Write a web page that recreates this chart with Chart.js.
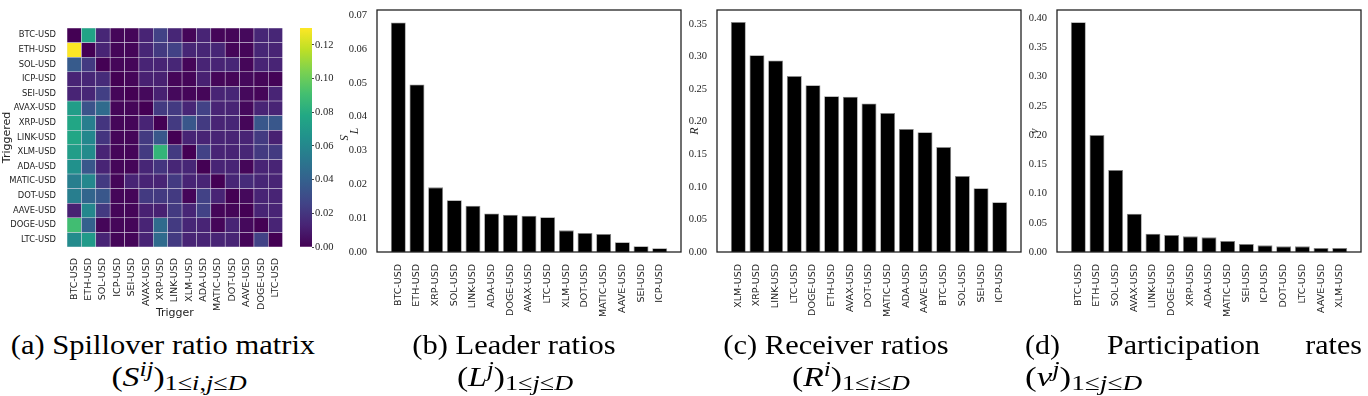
<!DOCTYPE html>
<html><head><meta charset="utf-8">
<script src="https://cdn.jsdelivr.net/npm/chart.js@4.4.1/dist/chart.umd.min.js"></script>
<style>
html,body{margin:0;padding:0;background:#fff;width:1368px;height:396px;overflow:hidden;}
.box{position:absolute;}
.cap{position:absolute;font-family:"Liberation Serif","DejaVu Serif",serif;font-size:28px;line-height:30px;color:#000;white-space:nowrap;}
.cap sub{font-size:0.78em;vertical-align:-0.2em;line-height:0;}
.cap sup{font-size:0.75em;vertical-align:0.5em;line-height:0;}
.c{text-align:center;}
.l1{transform:scaleX(1.09);transform-origin:center;}
.l2{transform:scaleX(1.2);transform-origin:center;}
.l2l{transform:scaleX(1.25);transform-origin:left;}
.sp{display:inline-block;transform:scaleX(1.07);}
</style></head><body>
<div class="box" style="left:0;top:0;width:290px;height:320px"><canvas id="cHm"></canvas></div>
<div class="box" style="left:295px;top:0;width:55px;height:320px"><canvas id="cCb"></canvas></div>
<div class="box" style="left:340px;top:0;width:345px;height:320px"><canvas id="cL"></canvas></div>
<div class="box" style="left:680px;top:0;width:345px;height:320px"><canvas id="cR"></canvas></div>
<div class="box" style="left:1020px;top:0;width:345px;height:320px"><canvas id="cN"></canvas></div>

<div class="cap c l1" style="left:0;top:330px;width:326px">(a) Spillover ratio matrix</div>
<div class="cap c l2" style="left:0;top:362px;width:358px">(<i>S</i><sup><i>ij</i></sup>)<sub>1≤<i>i</i>,<i>j</i>≤<i>D</i></sub></div>
<div class="cap c l1" style="left:364px;top:330px;width:300px">(b) Leader ratios</div>
<div class="cap c l2" style="left:365px;top:362px;width:300px">(<i>L</i><sup><i>j</i></sup>)<sub>1≤<i>j</i>≤<i>D</i></sub></div>
<div class="cap c l1" style="left:686px;top:330px;width:300px">(c) Receiver ratios</div>
<div class="cap c l2" style="left:701px;top:362px;width:300px">(<i>R</i><sup><i>i</i></sup>)<sub>1≤<i>i</i>≤<i>D</i></sub></div>
<div class="cap" style="left:1025px;top:330px;width:337px;display:flex;justify-content:space-between"><span class="sp" style="transform-origin:left">(d)</span><span class="sp">Participation</span><span class="sp" style="transform-origin:right">rates</span></div>
<div class="cap l2l" style="left:1025px;top:362px">(<i>ν</i><sup><i>j</i></sup>)<sub>1≤<i>j</i>≤<i>D</i></sub></div>

<script>
// ---------- DATA ----------
const assets = ['BTC-USD','ETH-USD','SOL-USD','ICP-USD','SEI-USD','AVAX-USD','XRP-USD','LINK-USD','XLM-USD','ADA-USD','MATIC-USD','DOT-USD','AAVE-USD','DOGE-USD','LTC-USD'];
const triggeredLabels = assets;   // rows
const triggerLabels = assets;     // columns
// spillover ratio matrix S^{ij}: row = triggered, column = trigger
const spilloverMatrix = [
  [0,     0.075, 0.014, 0.002, 0.002, 0.013, 0.025, 0.014, 0.002, 0.013, 0.002, 0.002, 0.003, 0.014, 0.014],
  [0.13,  0,     0.013, 0.002, 0.002, 0.014, 0.022, 0.025, 0.014, 0.014, 0.014, 0.002, 0.002, 0.014, 0.013],
  [0.037, 0.022, 0,     0.002, 0.002, 0.013, 0.013, 0.014, 0.002, 0.013, 0.013, 0.014, 0.002, 0.013, 0.013],
  [0.013, 0.014, 0.016, 0,     0.002, 0.012, 0.012, 0.002, 0.002, 0.012, 0.002, 0.002, 0.003, 0.002, 0.001],
  [0.013, 0.014, 0.024, 0.002, 0,     0.003, 0.012, 0.003, 0.002, 0.002, 0.013, 0.014, 0.003, 0.002, 0.013],
  [0.072, 0.033, 0.045, 0.002, 0.002, 0,     0.022, 0.022, 0.014, 0.025, 0.013, 0.013, 0.003, 0.013, 0.013],
  [0.077, 0.055, 0.020, 0.002, 0.002, 0.013, 0,     0.022, 0.035, 0.022, 0.013, 0.014, 0.002, 0.035, 0.035],
  [0.077, 0.060, 0.020, 0.002, 0.002, 0.022, 0.035, 0,     0.013, 0.013, 0.013, 0.013, 0.013, 0.022, 0.012],
  [0.072, 0.062, 0.013, 0.002, 0.002, 0.022, 0.085, 0.022, 0,     0.025, 0.013, 0.013, 0.014, 0.022, 0.022],
  [0.065, 0.035, 0.013, 0.002, 0.002, 0.014, 0.020, 0.014, 0.014, 0,     0.013, 0.013, 0.002, 0.013, 0.013],
  [0.055, 0.060, 0.022, 0.002, 0.013, 0.013, 0.013, 0.022, 0.013, 0.013, 0,     0.014, 0.016, 0.014, 0.013],
  [0.055, 0.042, 0.035, 0.002, 0.002, 0.022, 0.022, 0.022, 0.002, 0.025, 0.013, 0,     0.003, 0.013, 0.013],
  [0.012, 0.060, 0.022, 0.002, 0.002, 0.012, 0.012, 0.022, 0.014, 0.025, 0.002, 0.002, 0,     0.013, 0.013],
  [0.090, 0.040, 0.002, 0.002, 0.002, 0.013, 0.045, 0.022, 0.014, 0.013, 0.002, 0.013, 0.003, 0,     0.013],
  [0.062, 0.070, 0.013, 0.002, 0.002, 0.013, 0.045, 0.022, 0.013, 0.013, 0.013, 0.013, 0.002, 0.025, 0]
];
const colorbarMax = 0.13;
const colorbarTicks = [0, 0.02, 0.04, 0.06, 0.08, 0.10, 0.12];

const leaderLabels = ['BTC-USD','ETH-USD','XRP-USD','SOL-USD','LINK-USD','ADA-USD','DOGE-USD','AVAX-USD','LTC-USD','XLM-USD','DOT-USD','MATIC-USD','AAVE-USD','SEI-USD','ICP-USD'];
const leaderValues = [0.0678,0.0495,0.0191,0.0153,0.0137,0.0114,0.0110,0.0107,0.0103,0.0064,0.0056,0.0053,0.0029,0.0017,0.0011];
const leaderTicks = [0,0.01,0.02,0.03,0.04,0.05,0.06,0.07];
const leaderMax = 0.0715;

const receiverLabels = ['XLM-USD','XRP-USD','LINK-USD','LTC-USD','DOGE-USD','ETH-USD','AVAX-USD','DOT-USD','MATIC-USD','ADA-USD','AAVE-USD','BTC-USD','SOL-USD','SEI-USD','ICP-USD'];
const receiverValues = [0.353,0.302,0.294,0.270,0.256,0.239,0.2385,0.228,0.2134,0.189,0.184,0.161,0.1167,0.0978,0.0763];
const receiverTicks = [0,0.05,0.10,0.15,0.20,0.25,0.30,0.35];
const receiverMax = 0.3715;

const participationLabels = ['BTC-USD','ETH-USD','SOL-USD','AVAX-USD','LINK-USD','DOGE-USD','XRP-USD','ADA-USD','MATIC-USD','SEI-USD','ICP-USD','DOT-USD','LTC-USD','AAVE-USD','XLM-USD'];
const participationValues = [0.393,0.200,0.1402,0.0655,0.0313,0.0290,0.0268,0.0251,0.0188,0.0137,0.0114,0.0097,0.0097,0.0068,0.0068];
const participationTicks = [0,0.05,0.10,0.15,0.20,0.25,0.30,0.35,0.40];
const participationMax = 0.414;

// ---------- HELPERS ----------
const viridisStops = ['#440154','#482475','#414487','#355f8d','#2a788e','#21918c','#22a884','#44bf70','#7ad151','#bddf26','#fde725'];
function hexToRgb(h){ return [parseInt(h.slice(1,3),16), parseInt(h.slice(3,5),16), parseInt(h.slice(5,7),16)]; }
function viridis(t){
  t = Math.max(0, Math.min(1, t));
  const n = viridisStops.length - 1;
  const p = t * n, i = Math.min(Math.floor(p), n - 1), f = p - i;
  const a = hexToRgb(viridisStops[i]), b = hexToRgb(viridisStops[i+1]);
  const c = a.map((v, k) => Math.round(v + (b[k] - v) * f));
  return 'rgb(' + c.join(',') + ')';
}
const SANS = '"DejaVu Sans", sans-serif';
const SERIF = '"Liberation Serif", "DejaVu Serif", serif';
const TXT = '#222';

const framePlugin = {
  id: 'frame',
  afterDraw(chart, args, opts) {
    const {ctx, chartArea: a} = chart;
    ctx.save();
    ctx.strokeStyle = opts.color || '#222';
    ctx.lineWidth = opts.width || 1.2;
    ctx.strokeRect(a.left, a.top, a.right - a.left, a.bottom - a.top);
    ctx.restore();
  }
};

Chart.defaults.animation = false;
Chart.defaults.plugins.legend.display = false;
Chart.defaults.plugins.tooltip.enabled = false;

// ---------- HEATMAP ----------
new Chart(document.getElementById('cHm'), {
  type: 'bar',
  data: {
    labels: triggerLabels,
    datasets: spilloverMatrix.map((row, r) => ({
      label: triggeredLabels[r],
      data: row.map(() => 1),
      backgroundColor: row.map(v => viridis(v / colorbarMax)),
      borderColor: 'rgba(205,200,220,0.5)',
      borderWidth: 0.6,
      borderSkipped: false,
      barPercentage: 1,
      categoryPercentage: 1
    }))
  },
  options: {
    responsive: true, maintainAspectRatio: false,
    layout: { padding: { top: 28, right: 3, left: 0, bottom: 0 } },
    scales: {
      x: {
        stacked: true,
        grid: { display: false }, border: { display: false },
        ticks: { autoSkip: false, maxRotation: 90, minRotation: 90, padding: 3, color: TXT, font: { family: SANS, size: 9.5 } },
        title: { display: true, text: 'Trigger', color: TXT, font: { family: SANS, size: 11 }, padding: { top: 0, bottom: 0 } },
        afterFit: s => { s.height = 73; }
      },
      y: {
        stacked: true, reverse: true, min: 0, max: triggeredLabels.length,
        grid: { display: false }, border: { display: false },
        afterBuildTicks: s => { s.ticks = triggeredLabels.map((_, i) => ({ value: i + 0.5 })); },
        ticks: { autoSkip: false, padding: 3, color: TXT, font: { family: SANS, size: 8.4 },
          callback: v => triggeredLabels[Math.floor(v)] },
        title: { display: true, text: 'Triggered', color: TXT, font: { family: SANS, size: 11 }, padding: { top: 1, bottom: 2 } },
        afterFit: s => { s.width = 67; }
      }
    }
  }
});

// ---------- COLORBAR ----------
new Chart(document.getElementById('cCb'), {
  type: 'bar',
  data: {
    labels: ['S'],
    datasets: [{
      data: [[0, colorbarMax]],
      barPercentage: 1, categoryPercentage: 1,
      backgroundColor: (ctx) => {
        const a = ctx.chart.chartArea;
        if (!a) return viridis(0);
        const g = ctx.chart.ctx.createLinearGradient(0, a.bottom, 0, a.top);
        viridisStops.forEach((c, i) => g.addColorStop(i / (viridisStops.length - 1), c));
        return g;
      }
    }]
  },
  options: {
    responsive: true, maintainAspectRatio: false,
    layout: { padding: { top: 28, bottom: 73, left: 5, right: 0 } },
    scales: {
      x: { display: false },
      y: {
        position: 'right', min: 0, max: colorbarMax,
        grid: { display: true, drawOnChartArea: false, drawTicks: true, tickLength: 2, color: '#444' },
        border: { display: false },
        afterBuildTicks: s => { s.ticks = colorbarTicks.map(v => ({ value: v })); },
        ticks: { padding: 1, color: TXT, font: { family: SERIF, size: 10.5 }, callback: v => v.toFixed(2) },
        title: { display: true, text: 'S', color: TXT, font: { family: SERIF, size: 12, style: 'italic' }, padding: { top: 0, bottom: 0 } },
        afterFit: s => { s.width = 38; }
      }
    }
  }
});

// ---------- BAR CHARTS ----------
function makeBar(id, labels, values, yMax, yTicks, yTitle) {
  const pad = 1.14;
  new Chart(document.getElementById(id), {
    type: 'bar',
    data: {
      datasets: [{
        data: values.map((v, i) => ({ x: i, y: v })),
        backgroundColor: '#000',
        borderColor: '#8a8a8a',
        borderWidth: 0.8,
        borderSkipped: 'bottom',
        barPercentage: 0.8,
        categoryPercentage: 1
      }]
    },
    options: {
      responsive: true, maintainAspectRatio: false,
      layout: { padding: { top: 10, right: 4, left: 0, bottom: 0 } },
      plugins: { frame: { color: '#222', width: 1.3 } },
      scales: {
        x: {
          type: 'linear', offset: false, min: -pad, max: labels.length - 1 + pad,
          grid: { display: false, offset: false }, border: { display: false },
          afterBuildTicks: s => { s.ticks = labels.map((_, i) => ({ value: i })); },
          ticks: { autoSkip: false, maxRotation: 90, minRotation: 90, padding: 4, color: TXT,
            font: { family: SANS, size: 9.5 }, callback: v => labels[v] },
          afterFit: s => { s.height = 68; }
        },
        y: {
          min: 0, max: yMax,
          grid: { display: false }, border: { display: false },
          afterBuildTicks: s => { s.ticks = yTicks.map(v => ({ value: v })); },
          ticks: { padding: 2, color: TXT, font: { family: SERIF, size: 10.5 }, callback: v => v.toFixed(2) },
          title: { display: true, text: yTitle, color: TXT, font: { family: SERIF, size: 12, style: 'italic' }, padding: { top: 8, bottom: 0 } },
          afterFit: s => { s.width = 37; }
        }
      }
    },
    plugins: [framePlugin]
  });
}
makeBar('cL', leaderLabels, leaderValues, leaderMax, leaderTicks, 'L');
makeBar('cR', receiverLabels, receiverValues, receiverMax, receiverTicks, 'R');
makeBar('cN', participationLabels, participationValues, participationMax, participationTicks, 'ν');
</script>
</body></html>
